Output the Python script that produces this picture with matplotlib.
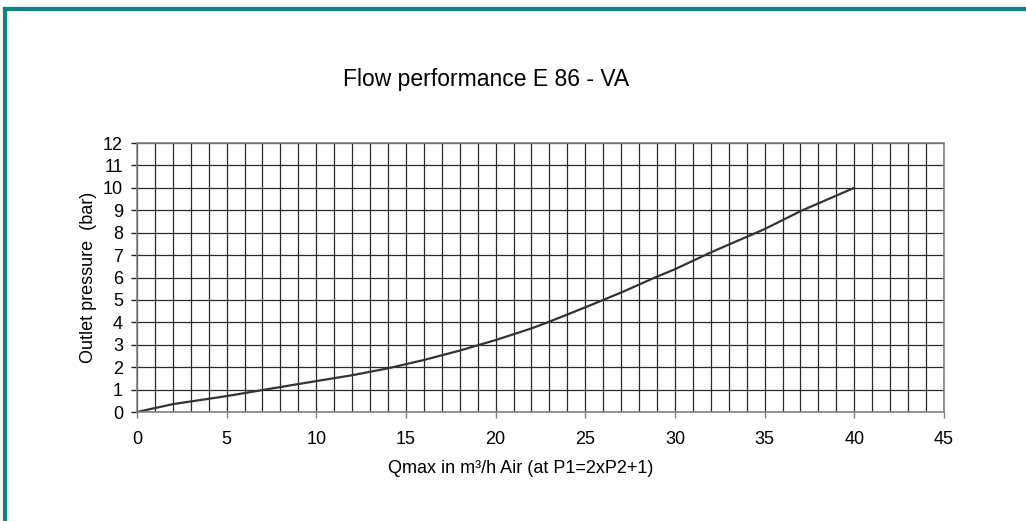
from matplotlib import pyplot as plt
from matplotlib.lines import Line2D
import numpy as np

plt.rcParams['font.family'] = ['Liberation Sans', 'DejaVu Sans']

# Werte
flow = [0, 2, 5, 7, 10, 12, 14, 16, 18, 20, 22, 23, 25, 27, 29, 30, 32, 35, 37, 40]
pressure = [0, 0.35, 0.71, 0.98, 1.38, 1.64, 1.95, 2.32, 2.74, 3.21, 3.73, 4.03,
            4.67, 5.33, 6.04, 6.37, 7.12, 8.16, 8.96, 10.0]

x_ticks = list(range(0, 46, 5))
y_ticks = list(range(0, 13))

fig = plt.figure(figsize=(10.26, 5.21), dpi=100)
ax = fig.add_axes([0.1335, 0.2092, 0.7865, 0.5163])

ax.plot(flow, pressure, color="#333333", linewidth=1.6, solid_capstyle="butt")

ax.set_xlim(0, 45)
ax.set_ylim(0, 12)
ax.set_xticks(x_ticks)
ax.set_xticks(np.arange(0, 46, 1), minor=True)
ax.set_yticks(y_ticks)
ax.grid(which="both", color="#2a2a2a", linewidth=0.9)
ax.set_axisbelow(True)

ax.tick_params(axis="x", which="major", length=4, width=1, color="#808080",
               labelsize=13, pad=9.5)
ax.tick_params(axis="x", which="minor", length=0)
ax.tick_params(axis="y", length=4.5, width=1, color="#222222", labelsize=13, pad=5.5)
for s in ax.spines.values():
    s.set_color("#808080")
    s.set_linewidth(1.2)

ax.set_xlabel("Qmax in m³/h Air (at P1=2xP2+1)", fontsize=13)
ax.xaxis.set_label_coords(0.476, -0.178)
ax.set_ylabel("Outlet pressure  (bar)", fontsize=13)
ax.yaxis.set_label_coords(-0.05, 0.5)
fig.text(0.4737, 0.848, "Flow performance E 86 - VA", fontsize=16.5,
         ha="center", va="center")

# Rahmen oben und links
teal = "#0b8580"
fig.add_artist(Line2D([0.0045, 0.0045], [0, 0.983], transform=fig.transFigure,
                      color=teal, linewidth=3))
fig.add_artist(Line2D([0.0045, 1], [0.983, 0.983], transform=fig.transFigure,
                      color=teal, linewidth=3))

fig.savefig("out.png", dpi=100)
